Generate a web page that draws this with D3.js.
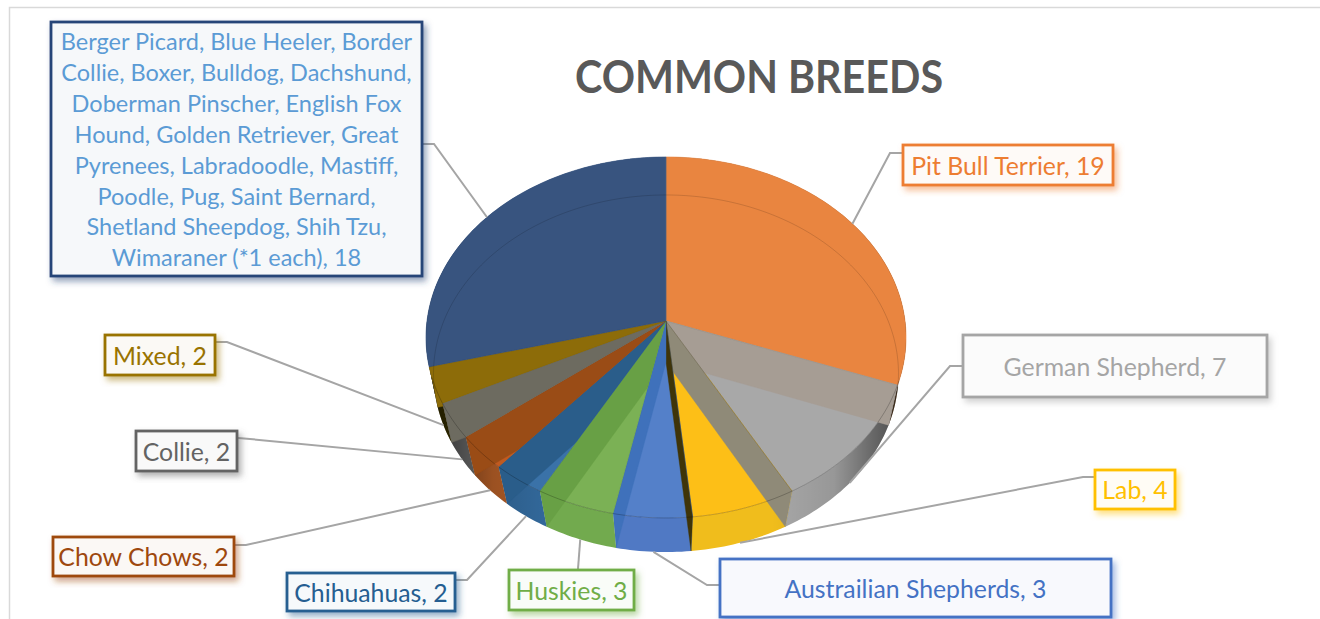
<!DOCTYPE html>
<html><head><meta charset="utf-8">
<script src="https://cdn.jsdelivr.net/npm/d3@7/dist/d3.min.js"></script>
<style>html,body{margin:0;padding:0;background:#fff}svg{display:block}text{font-family:Lato,"Open Sans",sans-serif}</style>
</head><body><svg id="c" width="1320" height="619"></svg>
<script>
const titleText = "COMMON BREEDS";
const breeds = ["Pit Bull Terrier","German Shepherd","Lab","Austrailian Shepherds","Huskies","Chihuahuas","Chow Chows","Collie","Mixed","Other"];
const counts = [19,7,4,3,3,2,2,2,2,18];
const labelLines = [
 ["Pit Bull Terrier, 19"],["German Shepherd, 7"],["Lab, 4"],["Austrailian Shepherds, 3"],["Huskies, 3"],
 ["Chihuahuas, 2"],["Chow Chows, 2"],["Collie, 2"],["Mixed, 2"],
 ["Berger Picard, Blue Heeler, Border","Collie, Boxer, Bulldog, Dachshund,","Doberman Pinscher, English Fox","Hound, Golden Retriever, Great","Pyrenees, Labradoodle, Mastiff,","Poodle, Pug, Saint Bernard,","Shetland Sheepdog, Shih Tzu,","Wimaraner (*1 each), 18"]
];
const topColors  = ["#e98540","#a8a8a8","#fdbf17","#5480c9","#7bb155","#3a72a8","#c05a20","#7f7d70","#8f6c08","#38547f"];
const wallColors = ["#a69d94","#8f8a78","#3f3408","#3f71bb","#68a045","#2a5d8a","#9a4c16","#6d6b60","#8d6c09","#38547f"];
const rimColors  = ["#7a5a3a","#a8a8a8","#f0bd1c","#5079c4","#72aa4e","#32689a","#b05c26","#787878","#4a4000","#2e4a74"];
const borderColors = ["#ed7d31","#a5a5a5","#ffc000","#4472c4","#70ad47","#255e91","#9e480e","#636363","#997300","#264478"];
const textColors = ["#ed7d31","#a5a5a5","#ffc000","#4472c4","#70ad47","#255e91","#9e480e","#636363","#997300","#5b9bd5"];
const labelFontSizes = [24.8,24.8,24.8,24.8,24.8,24.8,24.8,24.8,24.8,23.5];
// label boxes [x0,y0,x1,y1]
const boxes = [[902,144,1114,186],[962,334,1268,398],[1094,469,1176,510],[719,558,1112,618],[508,569,635,611],[286,572,456,612],[52,536,235,577],[135,430,238,472],[104,334,216,376],[50,21,423,277]];
// leader start on box + elbow
const leaders = [[[902,153],[890,153]],[[962,366],[950,366]],[[1094,477],[1083,477]],[[719,585],[707,585]],[[578,569],[578,569]],[[456,580],[467,580]],[[235,545],[246,545]],[[238,438],[250,439]],[[216,342],[227,342]],[[423,144],[434,144]]];
const leaderOnTopFace = [true,false,false,false,false,false,false,false,false,true];

const svg = d3.select("#c");
const defs = svg.append("defs");
// perspective projection of the two pie discs
const projector = (cx,cy,B,A,k)=>(t)=>{const u=Math.sin(t),v=Math.cos(t),w=1+k*v;return [cx+B*u/w,cy-A*v/w];};
const topP = projector(666,321,239,179,0.0913);
const botP = projector(666,362,232,177.8,0.0645);
const topCenter=[666,321], botCenter=[666,362];
const pie = d3.pie().sort(null).startAngle(0).endAngle(2*Math.PI);
const arcs = pie(counts);
const samples=(a,b)=>{const n=Math.max(2,Math.ceil((b-a)/0.02));return d3.range(n+1).map(i=>a+(b-a)*i/n);};
const poly = d3.line().curve(d3.curveLinear);

// frame
svg.append("path").attr("d","M9.5 619V7.5H1320").attr("fill","none").attr("stroke","#d9d9d9").attr("stroke-width",1.5);

// shading across the rim
const g=defs.append("linearGradient").attr("id","shade").attr("gradientUnits","userSpaceOnUse").attr("x1",426).attr("x2",906).attr("y1",0).attr("y2",0);
[[0,.6],[.06,.42],[.14,.12],[.25,0],[.72,0],[.85,.1],[.93,.38],[1,.6]].forEach(s=>g.append("stop").attr("offset",s[0]).attr("stop-color","#000").attr("stop-opacity",s[1]));

const pie3d=svg.append("g");
// rims
arcs.forEach((d,i)=>{
  const ts=samples(d.startAngle,d.endAngle);
  const p=ts.map(topP).concat(ts.slice().reverse().map(botP));
  pie3d.append("path").attr("d",poly(p)+"Z").attr("fill",rimColors[i]);
  pie3d.append("path").attr("d",poly(p)+"Z").attr("fill","url(#shade)");
});
// top faces
arcs.forEach((d,i)=>{
  const p=[topCenter].concat(samples(d.startAngle,d.endAngle).map(topP));
  pie3d.append("path").attr("d",poly(p)+"Z").attr("fill",topColors[i]).attr("stroke",topColors[i]).attr("stroke-width",.6);
});
// end walls, seen through the translucent faces; on the left side a wall stays inside its own slice
arcs.forEach((d,i)=>{
  if(i===arcs.length-1) return;
  const t=d.endAngle;
  const p=[topCenter,topP(t),botP(t),botCenter];
  const w=pie3d.append("path").attr("d",poly(p)+"Z").attr("fill",wallColors[i]).attr("stroke",wallColors[i]).attr("stroke-width",.4);
  if(t>Math.PI){
    const ts=samples(d.startAngle,d.endAngle);
    const cp=defs.append("clipPath").attr("id","own"+i);
    cp.append("path").attr("d",poly([topCenter].concat(ts.map(topP)))+"Z");
    cp.append("path").attr("d",poly(ts.map(topP).concat(ts.slice().reverse().map(botP)))+"Z");
    w.attr("clip-path",`url(#own${i})`);
  }
});
// far edge of the lower disc, and near edge of the upper disc
pie3d.append("path").attr("d",poly(samples(-1.75,1.75).map(botP))).attr("fill","none").attr("stroke","#000").attr("stroke-opacity",.18).attr("stroke-width",.8);
pie3d.append("path").attr("d",poly(samples(1.9,4.4).map(topP))).attr("fill","none").attr("stroke","#000").attr("stroke-opacity",.25).attr("stroke-width",.9);
// slice seams
arcs.forEach((d,i)=>{
  pie3d.append("path").attr("d",poly([topCenter,topP(d.startAngle)])).attr("stroke",d3.color(wallColors[i]).darker(.4)).attr("stroke-opacity",.35).attr("stroke-width",.6).attr("fill","none");
});

// leaders
const lg=svg.append("g");
arcs.forEach((d,i)=>{
  const mid=(d.startAngle+d.endAngle)/2;
  const end=(leaderOnTopFace[i]?topP:botP)(mid);
  lg.append("path").attr("d",poly(leaders[i].concat([end]))).attr("fill","none").attr("stroke","#a5a5a5").attr("stroke-width",2);
});

// shadows per label colour
borderColors.forEach((c,i)=>{
  const f=defs.append("filter").attr("id","sh"+i).attr("x","-20%").attr("y","-20%").attr("width","150%").attr("height","150%");
  f.append("feDropShadow").attr("dx",3).attr("dy",4).attr("stdDeviation",3).attr("flood-color",c).attr("flood-opacity",.5);
});
// labels
const lb=svg.append("g");
arcs.forEach((d,i)=>{
  const [x0,y0,x1,y1]=boxes[i];
  lb.append("rect").attr("x",x0+1).attr("y",y0+1).attr("width",x1-x0-2).attr("height",y1-y0-2)
    .attr("fill",d3.interpolateRgb("#fff",borderColors[i])(.04)).attr("stroke",borderColors[i]).attr("stroke-width",2.8).attr("filter",`url(#sh${i})`);
  const lines=labelLines[i], lh=30.9, cy=(y0+y1)/2+1;
  lines.forEach((s,j)=>{
    lb.append("text").attr("x",(x0+x1)/2).attr("y",cy+(j-(lines.length-1)/2)*lh).attr("dy","0.35em")
      .attr("text-anchor","middle").attr("font-size",labelFontSizes[i]).attr("fill",textColors[i]).text(s);
  });
});
svg.append("text").attr("x",759).attr("y",92.5).attr("text-anchor","middle").attr("font-size",46).attr("font-weight",700).attr("fill","#595959")
  .attr("textLength",368).attr("lengthAdjust","spacingAndGlyphs").text(titleText);
</script></body></html>
